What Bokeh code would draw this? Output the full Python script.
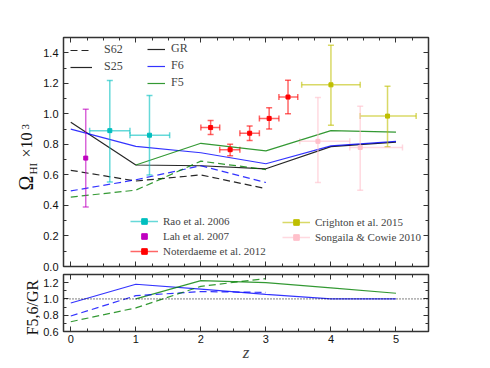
from math import pi
from bokeh.plotting import figure
from bokeh.models import (Range1d, LinearAxis, SingleIntervalTicker, PrintfTickFormatter,
                          ColumnDataSource, Whisker, TeeHead, Legend, LegendItem, Span)
from bokeh.core.properties import value
from bokeh.layouts import column, row
from bokeh.embed import file_html
from bokeh.resources import INLINE

# ---------------- data ----------------
z_sim = [0, 1, 2, 3, 4, 5]
gr_s25 = [0.945, 0.665, 0.66, 0.64, 0.785, 0.815]
f6_s25 = [0.90, 0.787, 0.745, 0.673, 0.79, 0.82]
z_f5 = [1, 2, 3, 4, 5]
f5_s25 = [0.665, 0.807, 0.757, 0.89, 0.88]
z_s62 = [0, 1, 2, 3]
gr_s62 = [0.63, 0.56, 0.60, 0.51]
f6_s62 = [0.495, 0.568, 0.66, 0.55]
f5_s62 = [0.455, 0.50, 0.69, 0.635]

ratio_f6_s25 = [0.95, 1.18, 1.12, 1.055, 1.0, 1.0]
ratio_f5_s25 = [1.0, 1.225, 1.20, 1.135, 1.07]
ratio_f6_s62 = [0.79, 1.04, 1.09, 1.08]
ratio_f5_s62 = [0.72, 0.89, 1.155, 1.25]

rao_z = [0.60, 1.21]; rao_zlo = [0.29, 0.91]; rao_zhi = [0.91, 1.52]
rao_om = [0.89, 0.86]; rao_lo = [0.553, 0.60]; rao_hi = [1.219, 1.12]

lah_z = [0.23]; lah_om = [0.71]; lah_lo = [0.39]; lah_hi = [1.03]

not_z = [2.15, 2.45, 2.75, 3.05, 3.34]
not_zlo = [2.0, 2.29, 2.6, 2.9, 3.2]; not_zhi = [2.29, 2.6, 2.9, 3.2, 3.49]
not_om = [0.91, 0.765, 0.873, 0.97, 1.11]
not_lo = [0.864, 0.726, 0.825, 0.90, 1.0]; not_hi = [0.956, 0.80, 0.92, 1.04, 1.22]

cri_z = [4.0, 4.87]; cri_zlo = [3.55, 4.45]; cri_zhi = [4.45, 5.31]
cri_om = [1.19, 0.985]; cri_lo = [0.925, 0.785]; cri_hi = [1.45, 1.18]

son_z = [3.80, 4.45]; son_zlo = [3.52, 4.29]; son_zhi = [4.29, 5.10]
son_om = [0.82, 0.78]; son_lo = [0.55, 0.50]; son_hi = [1.107, 1.05]

# ---------------- styling helpers ----------------
SERIF = "Liberation Serif"
SANS = "Liberation Sans"
FRAME = "#333333"


def style_axis(ax, labels):
    ax.axis_line_color = None
    ax.major_tick_in = 5
    ax.major_tick_out = 0
    ax.minor_tick_in = 3
    ax.minor_tick_out = 0
    ax.major_tick_line_color = FRAME
    ax.minor_tick_line_color = FRAME
    ax.major_label_text_font = SANS
    ax.major_label_text_color = "#111111"
    if labels:
        ax.major_label_text_font_size = "11px"
        ax.major_label_standoff = 5
    else:
        ax.major_label_text_font_size = "0px"
        ax.major_label_text_alpha = 0
        ax.major_label_standoff = 0


def setup(p, yint):
    p.xgrid.visible = False
    p.ygrid.visible = False
    p.outline_line_color = FRAME
    p.outline_line_width = 1.5
    p.xaxis.ticker = SingleIntervalTicker(interval=1, num_minor_ticks=4)
    p.yaxis.ticker = SingleIntervalTicker(interval=yint, num_minor_ticks=2)
    p.yaxis.formatter = PrintfTickFormatter(format="%.1f")
    top = LinearAxis(ticker=SingleIntervalTicker(interval=1, num_minor_ticks=4))
    right = LinearAxis(ticker=SingleIntervalTicker(interval=yint, num_minor_ticks=2))
    style_axis(top, False)
    style_axis(right, False)
    p.add_layout(top, "above")
    p.add_layout(right, "right")


xr = Range1d(-0.112, 5.5)

p1 = figure(frame_width=365, frame_height=229, x_range=xr, y_range=Range1d(0, 1.5),
            output_backend="svg", toolbar_location=None,
            min_border_left=21, min_border_right=12, min_border_top=37, min_border_bottom=7)
bottom1 = p1.xaxis[0]
left1 = p1.yaxis[0]
setup(p1, 0.2)
style_axis(bottom1, False)
style_axis(left1, True)

p2 = figure(frame_width=365, frame_height=57, x_range=xr, y_range=Range1d(0.6, 1.3),
            output_backend="svg", toolbar_location=None,
            min_border_left=21, min_border_right=12, min_border_top=1, min_border_bottom=4)
bottom2 = p2.xaxis[0]
left2 = p2.yaxis[0]
setup(p2, 0.2)
style_axis(bottom2, True)
style_axis(left2, True)
bottom2.major_label_standoff = 3
bottom2.axis_label = "z"
bottom2.axis_label_text_font = SERIF
bottom2.axis_label_text_font_style = "italic"
bottom2.axis_label_text_font_size = "17px"
bottom2.axis_label_standoff = -3

BLUE = "#0000ff"
GREEN = "#008000"
BLACK = "#000000"
LW = 1.2
DASH = "7 4"

# ---------------- main panel lines ----------------
r_gr25 = p1.line(z_sim, gr_s25, line_color=BLACK, line_width=LW, line_alpha=0.85)
r_f625 = p1.line(z_sim, f6_s25, line_color=BLUE, line_width=LW, line_alpha=0.8)
r_f525 = p1.line(z_f5, f5_s25, line_color=GREEN, line_width=LW, line_alpha=0.8)
r_gr62 = p1.line(z_s62, gr_s62, line_color=BLACK, line_width=LW, line_alpha=0.85, line_dash=DASH)
p1.line(z_s62, f6_s62, line_color=BLUE, line_width=LW, line_alpha=0.8, line_dash=DASH)
p1.line(z_s62, f5_s62, line_color=GREEN, line_width=LW, line_alpha=0.8, line_dash=DASH)


# ---------------- observations ----------------
def obs(z, om, lo, hi, color, zlo=None, zhi=None):
    d = dict(z=z, om=om, lo=lo, hi=hi)
    if zlo is not None:
        d["zlo"] = zlo
        d["zhi"] = zhi
    src = ColumnDataSource(d)
    kw = dict(line_color=color, line_alpha=0.6, line_width=1.5)
    p1.add_layout(Whisker(source=src, base="z", lower="lo", upper="hi", dimension="height",
                          line_color=color, line_alpha=0,
                          upper_head=TeeHead(size=6, **kw), lower_head=TeeHead(size=6, **kw)))
    p1.segment(x0="z", y0="lo", x1="z", y1="hi", source=src, **kw)
    rends = []
    if zlo is not None:
        p1.add_layout(Whisker(source=src, base="om", lower="zlo", upper="zhi", dimension="width",
                              line_color=color, line_alpha=0,
                              upper_head=TeeHead(size=6, **kw), lower_head=TeeHead(size=6, **kw)))
        rends.append(p1.segment(x0="zlo", y0="om", x1="zhi", y1="om", source=src, **kw))
        rends.append(p1.scatter(x="z", y="om", source=src, marker="cross", size=3, **kw))
    else:
        rends.append(p1.scatter(x="z", y="om", source=src, marker="dash", angle=pi / 2,
                                size=3, **kw))
    rends.append(p1.scatter(x="z", y="om", source=src, marker="square", size=4,
                            fill_color=color, line_color=color))
    return rends


rao_r = obs(rao_z, rao_om, rao_lo, rao_hi, "#00bfbf", rao_zlo, rao_zhi)
lah_r = obs(lah_z, lah_om, lah_lo, lah_hi, "#bf00bf")
not_r = obs(not_z, not_om, not_lo, not_hi, "#ff0000", not_zlo, not_zhi)
cri_r = obs(cri_z, cri_om, cri_lo, cri_hi, "#bfbf00", cri_zlo, cri_zhi)
son_r = obs(son_z, son_om, son_lo, son_hi, "#ffc0cb", son_zlo, son_zhi)


# ---------------- legends ----------------
def mk_legend(items, loc, gw, gh, standoff, spacing, fs):
    lg = Legend(items=items, location=loc, glyph_width=gw, glyph_height=gh, label_height=gh,
                label_standoff=standoff, spacing=spacing, padding=0, margin=0,
                border_line_color=None, background_fill_alpha=0,
                label_text_font=SERIF, label_text_font_size=fs)
    p1.add_layout(lg)
    return lg


mk_legend([LegendItem(label="S62", renderers=[r_gr62]),
           LegendItem(label="S25", renderers=[r_gr25])], (7, 192), 22, 14, 12, 2, "12px")
mk_legend([LegendItem(label="GR", renderers=[r_gr25]),
           LegendItem(label="F6", renderers=[r_f625]),
           LegendItem(label="F5", renderers=[r_f525])], (84, 176), 18, 14, 6, 2, "12px")
mk_legend([LegendItem(label="Rao et al. 2006", renderers=rao_r),
           LegendItem(label="Lah et al. 2007", renderers=lah_r),
           LegendItem(label="Noterdaeme et al. 2012", renderers=not_r)],
          (67, 8), 28, 14, 5, 1, "11px")
mk_legend([LegendItem(label="Crighton et al. 2015", renderers=cri_r),
           LegendItem(label="Songaila & Cowie 2010", renderers=son_r)],
          (219, 22), 28, 14, 5, 1, "11px")

# ---------------- ratio panel ----------------
p2.add_layout(Span(location=1.0, dimension="width", line_color=BLACK, line_dash="1 2", line_width=1))
p2.line(z_sim, ratio_f6_s25, line_color=BLUE, line_width=LW, line_alpha=0.8)
p2.line(z_f5, ratio_f5_s25, line_color=GREEN, line_width=LW, line_alpha=0.8)
p2.line(z_s62, ratio_f6_s62, line_color=BLUE, line_width=LW, line_alpha=0.8, line_dash=DASH)
p2.line(z_s62, ratio_f5_s62, line_color=GREEN, line_width=LW, line_alpha=0.8, line_dash=DASH)

# ---------------- y-axis titles (rotated text in a strip left of the panels) ----------------
H = 360
lab = figure(width=40, height=H, x_range=Range1d(0, 40), y_range=Range1d(H, 0),
             output_backend="svg", toolbar_location=None, min_border=0,
             x_axis_location=None, y_axis_location=None, outline_line_color=None)
lab.xgrid.visible = False
lab.ygrid.visible = False
for txt, x, y, fs in [("Ω", 25, 190, "20px"), ("HI", 32.5, 174, "11px"),
                      ("×10", 26, 157, "16px"), ("3", 24.5, 129, "11px")]:
    lab.text(x=[x], y=[y], text=[txt], angle=pi / 2, text_align="left",
             text_baseline="middle", text_font=value(SERIF), text_font_size=fs,
             text_color="#111111")
lab.text(x=[32], y=[307], text=["F5,6/GR"], angle=pi / 2, text_align="center",
         text_baseline="middle", text_font=value(SERIF), text_font_size="16px",
         text_color="#111111")

layout = row(lab, column(p1, p2, spacing=0), spacing=0)
open("out.html", "w").write(file_html(layout, INLINE))
